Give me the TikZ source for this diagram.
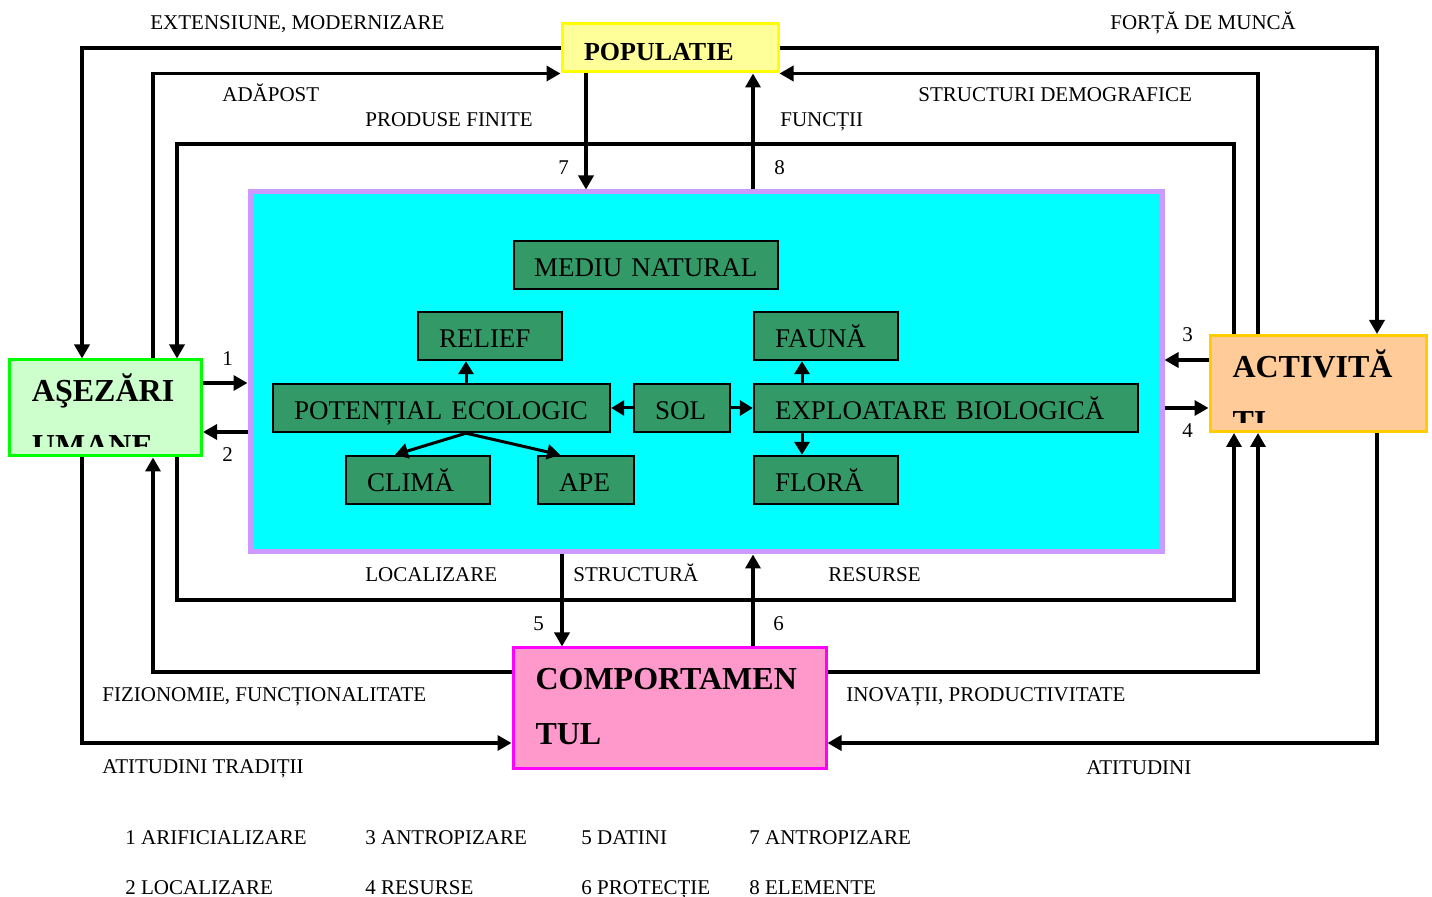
\documentclass[tikz,border=0pt]{standalone}
\usepackage{fontspec}
\setmainfont{Liberation Serif}
\usetikzlibrary{arrows.meta}

\definecolor{cian}{HTML}{00FFFF}
\definecolor{lila}{HTML}{CC99FF}
\definecolor{verdenat}{HTML}{339966}
\definecolor{galbenfond}{HTML}{FFFF99}
\definecolor{galben}{HTML}{FFFF00}
\definecolor{verdefond}{HTML}{CCFFCC}
\definecolor{verdeviu}{HTML}{00FF00}
\definecolor{portocfond}{HTML}{FFCC99}
\definecolor{portoc}{HTML}{FFCC00}
\definecolor{rozfond}{HTML}{FF99CC}
\definecolor{roz}{HTML}{FF00FF}

\tikzset{
  flecha/.style={line width=1.7pt, -{Triangle[length=7pt,width=7.5pt]}},
  flechita/.style={line width=1.5pt, -{Triangle[length=6.5pt,width=7.5pt]}},
  cajaverde/.style={draw=black, line width=1.2pt, fill=verdenat, inner xsep=10.5pt, inner ysep=0pt,
    minimum height=24pt, text width=#1, align=left, text height=12pt, text depth=0pt,
    font=\fontsize{13.5}{16}\selectfont},
  cajamare/.style={line width=1.5pt, inner sep=0pt},
  textmare/.style={anchor=base west, inner sep=0pt, minimum width=0pt, minimum height=0pt,
    font=\fontsize{16}{19}\selectfont\bfseries},
  titlu/.style 2 args={path picture={
    \node[textmare] at ([xshift=10.5pt,yshift=-21pt]path picture bounding box.north west) {#1};
    \clip ([yshift=4.5pt]path picture bounding box.south west) rectangle (path picture bounding box.north east);
    \node[textmare] at ([xshift=10.5pt,yshift=-48.5pt]path picture bounding box.north west) {#2};
  }},
  rotulo/.style={anchor=base west, inner sep=0pt, font=\fontsize{10.5}{12}\selectfont},
}

\begin{document}
\begin{tikzpicture}[x=0.5pt, y=-0.5pt]
    \useasboundingbox (0,0) rectangle (1432,897);

    % Medio natural
    \node[draw=lila, fill=cian, line width=2.5pt, minimum width=456pt, minimum height=180pt] (med) at (706,372) {};

    % Cajas grandes
    \node[cajamare, draw=galben, fill=galbenfond, minimum width=108pt, minimum height=24pt,
      inner xsep=11pt, text width=86pt, align=left, text height=13pt, text depth=0pt,
      font=\fontsize{13}{15}\selectfont\bfseries] (pop) at (670,48) {POPULATIE};
    \node[cajamare, draw=verdeviu, fill=verdefond, minimum width=96pt, minimum height=48pt,
      titlu={AŞEZĂRI}{UMANE}] (as) at (105.5,408) {};
    \node[cajamare, draw=portoc, fill=portocfond, minimum width=108pt, minimum height=48pt,
      titlu={ACTIVITĂ}{ȚI}] (act) at (1318,383.5) {};
    \node[cajamare, draw=roz, fill=rozfond, minimum width=156.5pt, minimum height=60.5pt,
      titlu={COMPORTAMEN}{TUL}] (comp) at (669.5,708.5) {};

    % Cajas del medio natural
    \node[cajaverde=112pt, inner xsep=10pt] (mn) at (646,265) {\mbox{MEDIU NATURAL}};
    \node[cajaverde=51pt] (rel) at (490,336) {RELIEF};
    \node[cajaverde=51pt] (fau) at (826,336) {FAUNĂ};
    \node[cajaverde=147.5pt] (pot) at (441.5,408) {POTENȚIAL ECOLOGIC};
    \node[cajaverde=27pt] (sol) at (682,408) {SOL};
    \node[cajaverde=171pt] (exp) at (946,408) {EXPLOATARE BIOLOGICĂ};
    \node[cajaverde=51pt] (cli) at (418,480) {CLIMĂ};
    \node[cajaverde=27pt] (ape) at (586,480) {APE};
    \node[cajaverde=51pt] (flo) at (826,480) {FLORĂ};

    % Carriles de las conexiones
    \coordinate (xa) at (82,0);
    \coordinate (xb) at (153,0);
    \coordinate (xc) at (177,0);
    \coordinate (xd) at (1234,0);
    \coordinate (xe) at (1258,0);
    \coordinate (xf) at (1377,0);
    \coordinate (yc) at (0,144);
    \coordinate (yf) at (0,600);
    \coordinate (yg) at (0,672);
    \coordinate (yi) at (0,743);
    \coordinate (x5) at (562,0);
    \coordinate (x7) at (586,0);
    \coordinate (x8) at (753,0);
    \coordinate (y1) at (0,383);
    \coordinate (y2) at (0,432);
    \coordinate (y3) at (0,360);
    \coordinate (y4) at (0,408);
    \coordinate (xp) at (466,0);
    \coordinate (xq) at (802,0);

    % Conexiones exteriores
    \draw[flecha] (pop.west) -| (xa |- as.north);
    \draw[flecha] (xb |- as.north) |- (pop.south west);
    \draw[flecha] (xd |- act.north) -- (xd |- yc) -| (xc |- as.north);
    \draw[flecha] (pop.east) -| (xf |- act.north);
    \draw[flecha] (xe |- act.north) |- (pop.south east);
    \draw[flecha] (xc |- as.south) -- (xc |- yf) -| (xd |- act.south);
    \draw[flecha] (comp.west |- yg) -| (xb |- as.south);
    \draw[flecha] (comp.east |- yg) -| (xe |- act.south);
    \draw[flecha] (xa |- as.south) |- (comp.west |- yi);
    \draw[flecha] (xf |- act.south) |- (comp.east |- yi);

    % Flechas con el medio natural
    \draw[flecha] (x7 |- pop.south) -- (x7 |- med.north);
    \draw[flecha] (x8 |- med.north) -- (x8 |- pop.south);
    \draw[flecha] (x5 |- med.south) -- (x5 |- comp.north);
    \draw[flecha] (x8 |- comp.north) -- (x8 |- med.south);
    \draw[flecha] (as.east |- y1) -- (med.west |- y1);
    \draw[flecha] (med.west |- y2) -- (as.east |- y2);
    \draw[flecha] (act.west |- y3) -- (med.east |- y3);
    \draw[flecha] (med.east |- y4) -- (act.west |- y4);

    % Flechas interiores
    \draw[flechita] (xp |- pot.north) -- (xp |- rel.south);
    \draw[flechita] (sol.west) -- (pot.east);
    \draw[flechita] (sol.east) -- (exp.west);
    \draw[flechita] (xp |- pot.south) -- ([xshift=-11.5pt]cli.north);
    \draw[flechita] (xp |- pot.south) -- ([xshift=-13pt]ape.north);
    \draw[flechita] (xq |- exp.north) -- (xq |- fau.south);
    \draw[flechita] (xq |- exp.south) -- (xq |- flo.north);

    % Rotulos de las conexiones
    \node[rotulo] (lext) at (150,30) {EXTENSIUNE, MODERNIZARE};
    \node[rotulo] (lfor) at (1110,30) {FORȚĂ DE MUNCĂ};
    \node[rotulo] (ladp) at (222,102) {ADĂPOST};
    \node[rotulo] (lstr) at (918,102) {STRUCTURI DEMOGRAFICE};
    \node[rotulo] (lpro) at (365,127) {PRODUSE FINITE};
    \node[rotulo] (lfun) at (780,127) {FUNCȚII};
    \node[rotulo] (lloc) at (365,582) {LOCALIZARE};
    \node[rotulo] (lsta) at (573,582) {STRUCTURĂ};
    \node[rotulo] (lres) at (828,582) {RESURSE};
    \node[rotulo] (lfiz) at (102,702) {FIZIONOMIE, FUNCȚIONALITATE};
    \node[rotulo] (lino) at (846,702) {INOVAȚII, PRODUCTIVITATE};
    \node[rotulo] (latt) at (102,774) {ATITUDINI TRADIȚII};
    \node[rotulo] (lati) at (1086,775) {ATITUDINI};

    % Numeros
    \node[rotulo] (n1) at (222,366) {1};
    \node[rotulo] (n2) at (222,462) {2};
    \node[rotulo] (n3) at (1182,342) {3};
    \node[rotulo] (n4) at (1182,438) {4};
    \node[rotulo] (n5) at (533,631) {5};
    \node[rotulo] (n6) at (773,631) {6};
    \node[rotulo] (n7) at (558,175) {7};
    \node[rotulo] (n8) at (774,175) {8};

    % Leyenda
    \node[rotulo] (ley1) at (125,845) {1 ARIFICIALIZARE};
    \node[rotulo] (ley3) at (365,845) {3 ANTROPIZARE};
    \node[rotulo] (ley5) at (581,845) {5 DATINI};
    \node[rotulo] (ley7) at (749,845) {7 ANTROPIZARE};
    \node[rotulo] (ley2) at (125,895) {2 LOCALIZARE};
    \node[rotulo] (ley4) at (365,895) {4 RESURSE};
    \node[rotulo] (ley6) at (581,895) {6 PROTECȚIE};
    \node[rotulo] (ley8) at (749,895) {8 ELEMENTE};

\end{tikzpicture}
\end{document}
